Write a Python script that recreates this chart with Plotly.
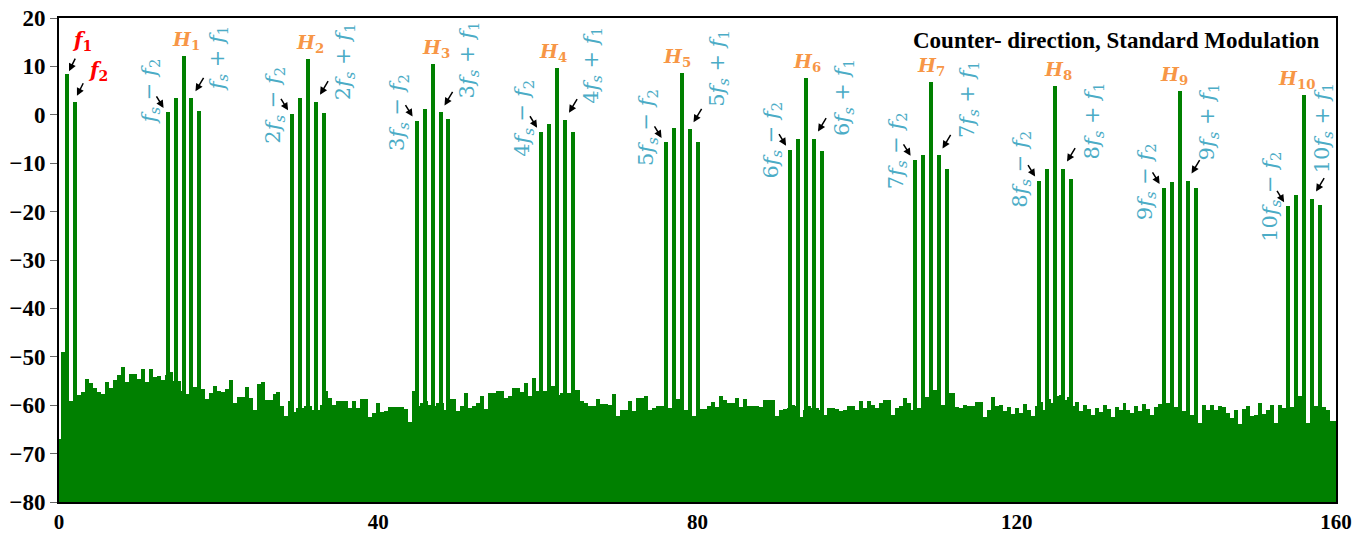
import numpy as np
import plotly.graph_objects as go

# ---------------------------------------------------------------- data
FLOOR_DB = -80.0

# noise floor, one bin every 0.5 units from 0 to 160
NOISE_STEP = 0.5
NOISE_DB = [
    -67.0, -49.0, -60.0, -59.2, -60.0, -57.8, -57.3, -54.6, -55.5, -56.4,
    -57.3, -57.7, -55.2, -56.5, -54.7, -53.8, -52.1, -55.2, -53.5, -53.6,
    -54.5, -52.6, -55.2, -52.6, -54.1, -54.0, -54.7, -53.8, -53.2, -55.0,
    -55.0, -57.0, -57.7, -56.3, -56.3, -56.7, -56.7, -58.8, -57.4, -56.0,
    -57.0, -57.3, -56.7, -54.7, -59.5, -58.3, -58.3, -56.3, -58.6, -61.0,
    -55.7, -55.2, -58.9, -58.9, -57.7, -57.3, -60.2, -62.2, -59.2, -61.5,
    -60.5, -60.5, -60.2, -60.2, -60.9, -60.9, -60.0, -57.1, -58.5, -59.9,
    -59.2, -59.1, -59.1, -60.6, -59.1, -60.6, -58.7, -58.7, -62.5, -61.6,
    -59.5, -61.4, -61.1, -60.4, -60.4, -60.4, -60.4, -60.8, -63.4, -57.1,
    -60.1, -59.5, -59.2, -60.0, -60.2, -59.6, -59.6, -60.9, -58.8, -58.8,
    -61.2, -60.1, -57.4, -60.5, -60.1, -59.5, -58.0, -60.8, -57.5, -57.5,
    -57.1, -57.1, -58.5, -58.2, -56.5, -56.5, -57.3, -55.5, -58.0, -54.4,
    -57.0, -57.1, -57.1, -56.0, -56.0, -57.8, -57.5, -57.5, -57.5, -56.8,
    -56.8, -59.2, -59.5, -60.2, -60.2, -58.8, -59.7, -59.7, -59.9, -57.6,
    -62.3, -61.0, -61.0, -59.1, -61.2, -58.6, -58.6, -58.2, -61.0, -60.6,
    -60.2, -60.2, -60.2, -60.6, -58.8, -58.8, -60.9, -60.9, -62.2, -62.2,
    -62.3, -60.8, -60.8, -60.2, -59.4, -60.4, -58.2, -58.9, -59.5, -59.5,
    -58.6, -60.4, -58.7, -60.2, -60.2, -60.2, -60.4, -59.0, -59.0, -59.0,
    -62.3, -61.0, -60.8, -60.5, -60.0, -60.2, -62.4, -61.0, -60.2, -60.6,
    -60.6, -61.0, -62.0, -60.5, -60.5, -60.8, -61.1, -60.9, -60.1, -60.1,
    -60.9, -59.2, -60.6, -59.2, -59.9, -60.6, -59.5, -58.9, -58.9, -62.0,
    -60.6, -60.2, -58.5, -59.5, -60.9, -60.6, -60.6, -58.3, -58.3, -56.8,
    -56.8, -59.9, -59.9, -57.5, -57.5, -60.4, -60.6, -59.9, -60.2, -60.1,
    -59.4, -59.4, -62.4, -60.9, -58.3, -60.2, -60.0, -61.2, -60.4, -61.8,
    -60.5, -61.6, -59.8, -60.9, -62.3, -60.2, -59.4, -61.0, -58.7, -59.6,
    -58.2, -57.9, -59.0, -58.4, -60.1, -59.3, -61.2, -60.0, -60.8, -62.0,
    -60.6, -61.4, -59.9, -60.7, -62.5, -60.3, -61.0, -59.6, -60.9, -61.7,
    -60.2, -61.3, -59.7, -60.8, -62.1, -60.4, -59.8, -60.9, -59.5, -60.0,
    -60.4, -60.4, -61.3, -62.0, -62.0, -63.7, -63.7, -59.9, -60.9, -59.9,
    -60.9, -60.1, -60.4, -61.6, -62.7, -60.9, -63.8, -60.7, -60.2, -62.3,
    -62.0, -59.5, -61.8, -60.9, -59.9, -63.6, -59.9, -60.6, -60.6, -60.4,
    -60.4, -58.2, -58.2, -63.6, -63.6, -60.2, -60.2, -60.4, -60.9, -63.2,
    -63.2,
]

# fundamental tones f1, f2
F_X = [1.0, 2.0]
F_DB = [8.4, 2.7]

# switching harmonics H1..H10 and their sidebands (n*fs - f2 ... n*fs + f2)
H_CENTER = [15.6, 31.2, 46.8, 62.4, 78.0, 93.6, 109.2, 124.8, 140.4, 156.0]
SIDEBAND_OFFSET = [-2, -1, 0, 1, 2]
GROUP_DB = [
    [0.6, 3.4, 12.2, 3.4, 0.8],
    [0.1, 3.4, 11.5, 2.7, 0.3],
    [-1.2, 1.1, 10.5, 0.5, -0.8],
    [-3.5, -1.8, 9.6, -1.0, -3.5],
    [-5.6, -2.7, 8.7, -3.0, -5.6],
    [-7.2, -4.9, 7.7, -4.9, -7.4],
    [-9.3, -8.4, 6.8, -8.4, -11.1],
    [-13.6, -11.1, 5.9, -11.1, -13.2],
    [-15.1, -13.8, 5.0, -13.6, -15.1],
    [-18.9, -16.6, 4.1, -17.3, -18.7],
]

# label placement (data units / pixel nudges)
H_LABEL_NUDGE = [2, 2, 3, -4, -5, 1, 0, 3, -6, -8]
LEFT_LABEL_DX = -4.25
LEFT_LABEL_Y = [4.8, 1.9, 0.5, -0.8, -2.6, -5.3, -7.4, -11.3, -13.8, -16.9]
RIGHT_LABEL_DX = [4.34, 4.54, 4.49, 4.43, 4.63, 4.71, 4.78, 4.73, 3.55, 2.37]
RIGHT_LABEL_Y = [11.5, 10.9, 11.3, 10.2, 9.6, 3.6, 3.2, -1.2, -1.4, -2.8]

TITLE = "Counter- direction, Standard Modulation"

# ---------------------------------------------------------------- styles
GREEN = "#008000"
ORANGE = "#F79646"
CYAN = "#4BACC6"
RED = "#FF0000"
MATH_FONT = "DejaVu Serif"
TEXT_FONT = "Liberation Serif"

noise_x = np.arange(len(NOISE_DB)) * NOISE_STEP
noise_db = np.array(NOISE_DB)

peak_x, peak_db = list(F_X), list(F_DB)
for c, vals in zip(H_CENTER, GROUP_DB):
    for off, v in zip(SIDEBAND_OFFSET, vals):
        peak_x.append(c + off)
        peak_db.append(v)
peak_x = np.array(peak_x)
peak_db = np.array(peak_db)

fig = go.Figure()
fig.add_trace(go.Bar(
    x=noise_x, y=noise_db - FLOOR_DB, base=FLOOR_DB, width=NOISE_STEP,
    marker=dict(color=GREEN, line=dict(width=0)), hoverinfo="skip",
))
fig.add_trace(go.Bar(
    x=peak_x, y=peak_db - FLOOR_DB, base=FLOOR_DB, width=0.5,
    marker=dict(color=GREEN, line=dict(width=0)),
))

ann = []


def arrow(x, y, hx, hy, ax, ay):
    ann.append(dict(
        x=x, y=y, xref="x", yref="y", text="", showarrow=True,
        xshift=hx, yshift=hy, ax=ax, ay=ay, axref="pixel", ayref="pixel",
        arrowhead=2, arrowsize=1, arrowwidth=1.5, arrowcolor="black",
        standoff=0, startstandoff=0,
    ))


# f1 / f2 labels
for i, (fx, fdb) in enumerate(zip(F_X, F_DB)):
    ann.append(dict(
        x=fx, y=fdb, xref="x", yref="y", showarrow=False,
        text=f"<b><i>f</i><sub>{i + 1}</sub></b>",
        xshift=15 if i == 0 else 23, yshift=33 if i == 0 else 31,
        font=dict(family=MATH_FONT, size=20, color=RED),
    ))
    arrow(fx, fdb, 2, 3 if i == 0 else 6, 7, -14)

for n, (c, vals) in enumerate(zip(H_CENTER, GROUP_DB), start=1):
    k = "" if n == 1 else str(n)
    # harmonic label
    ann.append(dict(
        x=c, y=vals[2], xref="x", yref="y", showarrow=False,
        text=f"<b><i>H</i><sub>{n}</sub></b>", xanchor="center",
        yanchor="bottom", xshift=H_LABEL_NUDGE[n - 1], yshift=1,
        font=dict(family=MATH_FONT, size=19, color=ORANGE),
    ))
    # lower sideband label + arrow
    ann.append(dict(
        x=c + LEFT_LABEL_DX, y=LEFT_LABEL_Y[n - 1], xref="x", yref="y",
        showarrow=False, textangle=-90,
        text=f"{k}<i>f</i><sub><i>s</i></sub> − <i>f</i><sub>2</sub>",
        font=dict(family=MATH_FONT, size=21, color=CYAN),
    ))
    arrow(c + SIDEBAND_OFFSET[0], vals[0], -4, 4, -8, -13)
    # upper sideband label + arrow
    ann.append(dict(
        x=c + RIGHT_LABEL_DX[n - 1], y=RIGHT_LABEL_Y[n - 1], xref="x",
        yref="y", showarrow=False, textangle=-90,
        text=f"{k}<i>f</i><sub><i>s</i></sub> + <i>f</i><sub>1</sub>",
        font=dict(family=MATH_FONT, size=21, color=CYAN),
    ))
    arrow(c + SIDEBAND_OFFSET[3], vals[3], 4, 7, 9, -15)

ann.append(dict(
    x=132.5, y=15.4, xref="x", yref="y", showarrow=False, text=f"<b>{TITLE}</b>",
    font=dict(family=TEXT_FONT, size=23, color="black"),
))

fig.update_layout(
    width=1370, height=534,
    margin=dict(l=59, r=34, t=18, b=32),
    paper_bgcolor="white", plot_bgcolor="white",
    barmode="overlay", bargap=0, showlegend=False,
    annotations=ann,
    xaxis=dict(
        range=[0, 160], tickvals=[0, 40, 80, 120, 160], automargin=False,
        showgrid=False, zeroline=False, showline=True, linecolor="black",
        linewidth=1.5, mirror=True, ticks="", ticklen=0,
        tickfont=dict(family=TEXT_FONT, size=21, color="black", weight="bold"),
    ),
    yaxis=dict(
        range=[-80, 20], dtick=10, showgrid=False, zeroline=False,
        automargin=False,
        showline=True, linecolor="black", linewidth=2, mirror=True,
        ticks="outside", ticklen=7, tickcolor="#666", tickwidth=1,
        tickfont=dict(family=TEXT_FONT, size=23, color="black", weight="bold"),
    ),
)

fig.write_html("out.html")
